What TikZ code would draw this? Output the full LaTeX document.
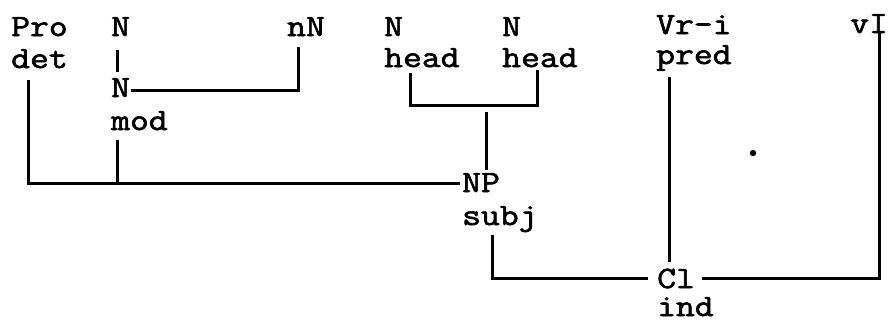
\documentclass[tikz,border=0pt]{standalone}
\usepackage{fontspec}
\newfontfamily\tw[FakeStretch=1.18,FakeBold=2]{Latin Modern Mono}
\usetikzlibrary{calc}
\begin{document}
\begin{tikzpicture}[x={(1pt,0)},y={(0,-1pt)},
  lbl/.style={anchor=base west,inner sep=0pt,font=\tw\fontsize{31}{31}\selectfont},
  conn/.style={line width=3pt,line join=miter}]
\useasboundingbox (0,0) rectangle (888,322);
% text nodes
\node[lbl] (pro)   at (11,36)  {Pro};
\node[lbl] (det)   at (11,68)  {det};
\node[lbl] (n1)    at (111,36) {N};
\node[lbl] (n2)    at (111,97) {N};
\node[lbl] (mod)   at (111,130) {mod};
\node[lbl] (nN)    at (287,36) {nN};
\node[lbl] (hN1)   at (384,36) {N};
\node[lbl] (head1) at (384,67) {head};
\node[lbl] (hN2)   at (502,36) {N};
\node[lbl] (head2) at (502,67) {head};
\node[lbl] (vri)   at (656,34) {Vr-i};
\node[lbl] (pred)  at (656,64) {pred};
\node[lbl] (vI)    at (850,33) {vI};
\node[lbl] (NP)    at (462,192) {NP};
\node[lbl] (subj)  at (462,225) {subj};
\node[lbl] (Cl)    at (657,288) {Cl};
\node[lbl] (ind)   at (657,316) {ind};
% connectors
\draw[conn] ($(det.base west)+(17,12)$) |- ($(NP.base west)+(-2,-9)$);
\draw[conn] ($(n1.base west)+(6,14)$) -- ($(n2.base west)+(6,-25)$);
\draw[conn] ($(n2.base west)+(20,-7)$) -| ($(nN.base west)+(11,11)$);
\draw[conn] ($(mod.base west)+(6,10)$) -- ($(mod.base west)+(6,53)$);
\draw[conn] ($(head1.base west)+(26,6)$) -- ++(0,32) -| ($(head2.base west)+(35,3)$);
\draw[conn] ($(head1.base west)+(102,45)$) -- ($(NP.base west)+(24,-22)$);
\draw[conn] ($(pred.base west)+(13,13)$) -- ($(Cl.base west)+(12,-26)$);
\draw[conn] ($(subj.base west)+(30,10)$) |- ($(Cl.base west)+(-9,-10)$);
\draw[conn] ($(Cl.base west)+(45,-10)$) -| ($(vI.base west)+(29,-1)$);
% stray dot
\fill (753,153) circle (3.2);
\end{tikzpicture}
\end{document}
